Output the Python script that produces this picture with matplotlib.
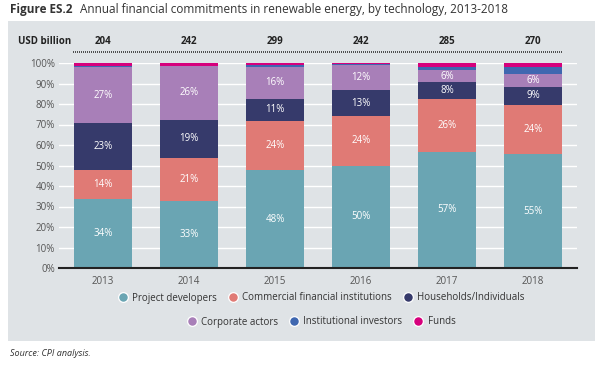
import numpy as np
import matplotlib.pyplot as plt
from matplotlib.patches import Rectangle
from matplotlib.lines import Line2D

plt.rcParams['font.family'] = ['Open Sans', 'DejaVu Sans']

years = ['2013', '2014', '2015', '2016', '2017', '2018']
totals = [204, 242, 299, 242, 285, 270]

project = [33.7, 32.6, 47.6, 50.0, 56.8, 55.4]
commercial = [14.3, 20.9, 24.2, 24.0, 25.5, 24.3]
households = [22.7, 18.9, 10.6, 12.6, 8.2, 8.6]
corporate = [27.2, 26.0, 15.8, 12.4, 6.2, 6.3]
institutional = [0.8, 0.3, 0.9, 0.3, 1.5, 3.3]
funds = [1.3, 1.3, 0.9, 0.7, 1.8, 2.1]

names = ['Project developers', 'Commercial financial institutions', 'Households/Individuals',
         'Corporate actors', 'Institutional investors', 'Funds']
colors = ['#6aa5b3', '#e07a75', '#363a6b', '#a87fb8', '#3f67b0', '#d6007c']
series = [project, commercial, households, corporate, institutional, funds]
labelled = [True, True, True, True, False, False]

bg = '#dfe3e6'
fig = plt.figure(figsize=(6, 3.65), dpi=100)
W, H = 600, 365

# grey panel
fig.patches.append(Rectangle((8 / W, 1 - 341 / H), (595 - 8) / W, (341 - 21) / H,
                             transform=fig.transFigure, facecolor=bg, edgecolor='none', zorder=-5))

ax = fig.add_axes([59 / W, 1 - 268 / H, (577 - 59) / W, (268 - 63) / H])
ax.set_zorder(2)
ax.patch.set_alpha(0)

x = np.arange(len(years))
bottom = np.zeros(len(years))
for vals, c, lab in zip(series, colors, labelled):
    vals = np.array(vals)
    ax.bar(x, vals, 0.67, bottom=bottom, color=c, edgecolor='none', zorder=3)
    if lab:
        for xi, b, v in zip(x, bottom, vals):
            ax.text(xi, b + v / 2, f'{round(v)}%', ha='center', va='center',
                    color='white', fontsize=7, zorder=4)
    bottom += vals

ax.set_xlim(-0.51, 5.51)
ax.set_ylim(0, 100)
ax.set_yticks(np.arange(0, 101, 10))
ax.set_yticklabels([f'{v}%' for v in range(0, 101, 10)], fontsize=7, color='#555555')
ax.set_xticks(x)
ax.set_xticklabels(years, fontsize=7, color='#555555')
ax.tick_params(length=0, pad=3)
ax.tick_params(axis='x', pad=6)
ax.grid(axis='y', color='white', linewidth=1, zorder=1)
for s in ['top', 'right', 'left']:
    ax.spines[s].set_visible(False)
ax.spines['bottom'].set_color('#222222')
ax.spines['bottom'].set_linewidth(1.5)
ax.spines['bottom'].set_zorder(5)

# title
fig.text(10 / W, 1 - 9 / H, 'Figure ES.2', fontsize=8.5, fontweight='bold', color='#333333', va='center')
fig.text(80 / W, 1 - 9 / H, 'Annual financial commitments in renewable energy, by technology, 2013-2018',
         fontsize=8.5, color='#333333', va='center')

# totals row
fig.text(18 / W, 1 - 41 / H, 'USD billion', fontsize=7, fontweight='bold', color='#222222', va='center')
for xi, t in zip(x, totals):
    xf = fig.transFigure.inverted().transform(ax.transData.transform((xi, 0)))[0]
    fig.text(xf, 1 - 41 / H, str(t), fontsize=7, fontweight='bold', color='#222222',
             ha='center', va='center')
fig.add_artist(Line2D([73 / W, 563 / W], [1 - 52 / H, 1 - 52 / H], transform=fig.transFigure,
                      color='#333333', linewidth=1.2, linestyle=(0, (0.6, 0.6))))

# legend
def handles(idx):
    return [Line2D([], [], marker='o', linestyle='none', markersize=7,
                   markerfacecolor=colors[i], markeredgecolor='white', markeredgewidth=0.9)
            for i in idx]

leg1 = fig.legend(handles([0, 1, 2]), names[:3], loc='center', bbox_to_anchor=(320 / W, 1 - 298 / H),
                  ncol=3, frameon=False, fontsize=7, handletextpad=0.2, columnspacing=0.9,
                  handlelength=1.5)
leg2 = fig.legend(handles([3, 4, 5]), names[3:], loc='center', bbox_to_anchor=(320 / W, 1 - 322 / H),
                  ncol=3, frameon=False, fontsize=7, handletextpad=0.2, columnspacing=0.9,
                  handlelength=1.5)
for leg in (leg1, leg2):
    for t in leg.get_texts():
        t.set_color('#333333')

fig.text(10 / W, 1 - 354 / H, 'Source: CPI analysis.', fontsize=6.5, style='italic', color='#333333', va='center')

fig.savefig('out.png', dpi=100, facecolor='white')
